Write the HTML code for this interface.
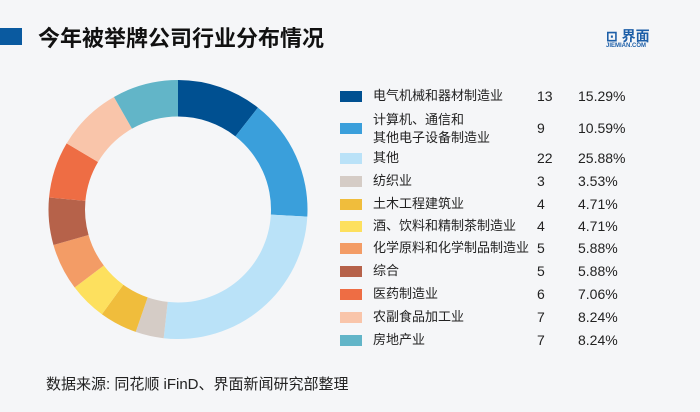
<!DOCTYPE html>
<html><head><meta charset="utf-8"><style>
body{margin:0;width:700px;height:412px;background:#f5f6f8;font-family:"Liberation Sans","Noto Sans CJK SC",sans-serif;position:relative;overflow:hidden;color:#222}
.t{position:absolute;white-space:nowrap}
.sw{position:absolute;left:340px;width:22px;height:11px}
</style></head><body>
<div style="position:absolute;left:0;top:28px;width:22px;height:17px;background:#0a5aa0"></div>
<div class="t" style="left:38px;top:21px;font-size:22px;font-weight:bold;color:#111">今年被举牌公司行业分布情况</div>
<div class="t" style="left:606px;top:26px;font-size:14px;font-weight:bold;color:#1d5fa8">⊡ 界面</div>
<div class="t" style="left:606px;top:43px;font-size:6px;font-weight:bold;color:#1d5fa8">JIEMIAN.COM</div>
<svg id="d" width="700" height="412" style="position:absolute;left:0;top:0"></svg>
<div id="lg"></div>
<div class="t" style="left:46px;top:373px;font-size:15px;color:#222">数据来源: 同花顺 iFinD、界面新闻研究部整理</div>
<script>
var data=[["电气机械和器材制造业",13,"15.29%","#005091",96,9],["计算机、通信和<br>其他电子设备制造业",9,"10.59%","#3a9fdb",128,13],["其他",22,"25.88%","#bae2f8",158,22],["纺织业",3,"3.53%","#d5ccc6",181,3],["土木工程建筑业",4,"4.71%","#f0bd3c",204,4],["酒、饮料和精制茶制造业",4,"4.71%","#fde05e",226,4],["化学原料和化学制品制造业",5,"5.88%","#f39c66",248,5],["综合",5,"5.88%","#b6624a",271,5],["医药制造业",6,"7.06%","#ee6d44",294,6],["农副食品加工业",7,"8.24%","#f9c5aa",317,7],["房地产业",7,"8.24%","#62b5c8",340,7]];
var cx=178,cy=209.5,R=129.5,r=93,a=0,s="",h="";
function p(rad,an){return [cx+rad*Math.sin(an),cy-rad*Math.cos(an)];}
data.forEach(function(d){var b=a+d[5]/85*2*Math.PI,l=(b-a)>Math.PI?1:0;
var p1=p(R,a),p2=p(R,b),p3=p(r,b),p4=p(r,a);
s+='<path fill="'+d[3]+'" d="M'+p1+'A'+R+','+R+' 0 '+l+' 1 '+p2+'L'+p3+'A'+r+','+r+' 0 '+l+' 0 '+p4+'Z"/>';a=b;
var two=d[0].indexOf("<br>")>0;
h+='<div class="sw" style="top:'+(d[4]-5)+'px;background:'+d[3]+'"></div>';
h+='<div class="t" style="left:373px;top:'+(d[4]-(two?17:9))+'px;font-size:13px;line-height:18px">'+d[0]+'</div>';
h+='<div class="t" style="left:537px;top:'+(d[4]-9)+'px;font-size:14px;line-height:18px">'+d[1]+'</div>';
h+='<div class="t" style="left:578px;top:'+(d[4]-9)+'px;font-size:14px;line-height:18px">'+d[2]+'</div>';});
document.getElementById("d").innerHTML=s;document.getElementById("lg").innerHTML=h;
</script>
</body></html>
